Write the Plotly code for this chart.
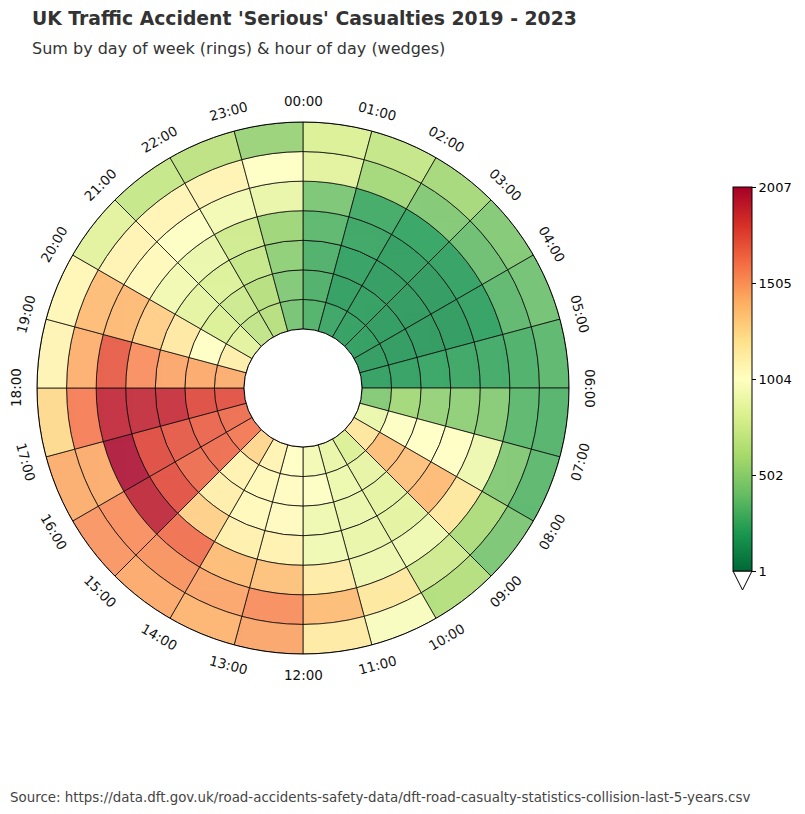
import math
import plotly.graph_objects as go

# ---------------- data ----------------
hour_labels = [f"{h:02d}:00" for h in range(24)]
day_names = ["Mon", "Tue", "Wed", "Thu", "Fri", "Sat", "Sun"]  # inner ring -> outer ring

mon = [290, 220, 185, 180, 170, 185, 440, 890, 1180, 800, 880, 930, 1010, 1090, 1260, 1620, 1660, 1760, 1440, 1120, 830, 680, 630, 400]
tue = [280, 180, 175, 165, 165, 190, 560, 990, 1370, 860, 900, 995, 1030, 1050, 1100, 1660, 1690, 1780, 1450, 1000, 800, 730, 630, 440]
wed = [280, 195, 170, 160, 160, 210, 510, 1005, 1360, 850, 885, 910, 1035, 1050, 1120, 1660, 1730, 1900, 1460, 1160, 850, 810, 700, 490]
thu = [320, 225, 175, 160, 165, 225, 490, 1010, 1385, 845, 880, 915, 1100, 1110, 1290, 1760, 1780, 1910, 1540, 1300, 920, 890, 745, 540]
fri = [420, 245, 205, 195, 195, 240, 460, 905, 1170, 910, 905, 1140, 1360, 1380, 1650, 1930, 2000, 1920, 1720, 1390, 1050, 995, 930, 880]
sat = [830, 560, 440, 370, 330, 280, 320, 440, 590, 740, 1170, 1380, 1545, 1460, 1530, 1540, 1440, 1600, 1430, 1380, 1085, 1075, 1080, 1000]
sun = [800, 690, 570, 440, 390, 320, 300, 320, 420, 620, 965, 1150, 1465, 1410, 1450, 1520, 1440, 1250, 1080, 1070, 830, 700, 660, 520]

cbar_vals = [1, 502, 1004, 1505, 2007]
vmin, vmax = 1, 2007

title = "UK Traffic Accident 'Serious' Casualties 2019 - 2023"
subtitle = "Sum by day of week (rings) & hour of day (wedges)"
source = "Source: https://data.dft.gov.uk/road-accidents-safety-data/dft-road-casualty-statistics-collision-last-5-years.csv"

# ---------------- build ----------------
OFF = 8  # page body margin
W, H = 805 - OFF, 814 - OFF


def px(X):
    return (X - OFF) / W


def py(Y):
    return 1 - (Y - OFF) / H


series = [mon, tue, wed, thu, fri, sat, sun]
step = 360 / len(hour_labels)

theta, base, rr, zz, txt = [], [], [], [], []
for d, vals in enumerate(series):
    for h, v in enumerate(vals):
        theta.append(h * step + step / 2)
        base.append(d)
        rr.append(1)
        zz.append(v)
        txt.append(f"{day_names[d]} {hour_labels[h]}: {v}")

# polar geometry (reference pixels)
cx, cy, R, r_hole = 303, 388, 266, 59

fig = go.Figure()
fig.add_trace(go.Barpolar(
    r=rr, base=base, theta=theta, width=[step] * len(theta),
    text=txt, hoverinfo="text",
    marker=dict(
        color=zz, colorscale="RdYlGn", reversescale=True, cmin=vmin, cmax=vmax,
        opacity=0.85,
        line=dict(color="black", width=0.8),
        colorbar=dict(
            x=px(733), xanchor="left", xpad=0,
            y=py(187), yanchor="top", ypad=0,
            len=384, lenmode="pixels", thickness=19, thicknessmode="pixels",
            outlinecolor="black", outlinewidth=1,
            tickvals=cbar_vals, ticktext=[str(v) for v in cbar_vals],
            ticks="outside", ticklen=4, tickcolor="black",
            tickfont=dict(family="DejaVu Sans", size=13, color="black"),
        ),
    ),
    showlegend=False,
))

fig.update_layout(
    width=W, height=H,
    margin=dict(l=0, r=0, t=0, b=0),
    paper_bgcolor="white",
    polar=dict(
        domain=dict(x=[px(cx - R), px(cx + R)], y=[py(cy + R), py(cy - R)]),
        hole=r_hole / R,
        bgcolor="white",
        radialaxis=dict(range=[0, len(series)], visible=False, showgrid=False),
        angularaxis=dict(rotation=90, direction="clockwise", showgrid=False,
                         showticklabels=False, ticks="", showline=True,
                         linecolor="black", linewidth=1),
    ),
)

annotations = []
label_r = 287
for h, lab in enumerate(hour_labels):
    ang = h * step
    X = cx + label_r * math.sin(math.radians(ang))
    Y = cy - label_r * math.cos(math.radians(ang))
    if ang <= 90:
        rot = ang
    elif ang < 270:
        rot = ang - 180
    else:
        rot = ang - 360
    annotations.append(dict(
        x=px(X), y=py(Y), xref="paper", yref="paper",
        text=lab, showarrow=False, textangle=rot,
        xanchor="center", yanchor="middle",
        font=dict(family="DejaVu Sans", size=13.5, color="#111111"),
    ))

annotations.append(dict(x=px(30), y=py(19), xref="paper", yref="paper", text=f"<b>{title}</b>",
                        showarrow=False, xanchor="left", yanchor="middle",
                        font=dict(family="DejaVu Sans", size=18.8, color="#333333")))
annotations.append(dict(x=px(30), y=py(48), xref="paper", yref="paper", text=subtitle,
                        showarrow=False, xanchor="left", yanchor="middle",
                        font=dict(family="DejaVu Sans", size=16, color="#333333")))
annotations.append(dict(x=px(8), y=py(797), xref="paper", yref="paper", text=source,
                        showarrow=False, xanchor="left", yanchor="middle",
                        font=dict(family="DejaVu Sans", size=13.4, color="#444444")))
fig.update_layout(annotations=annotations)

# colorbar "extend min" triangle
x0, x1 = px(733), px(752)
y0, ytip = py(571), py(590)
fig.add_shape(type="path", xref="paper", yref="paper",
              path=f"M {x0},{y0} L {x1},{y0} L {(x0 + x1) / 2},{ytip} Z",
              fillcolor="white", line=dict(color="black", width=1))

fig.write_html("out.html")
